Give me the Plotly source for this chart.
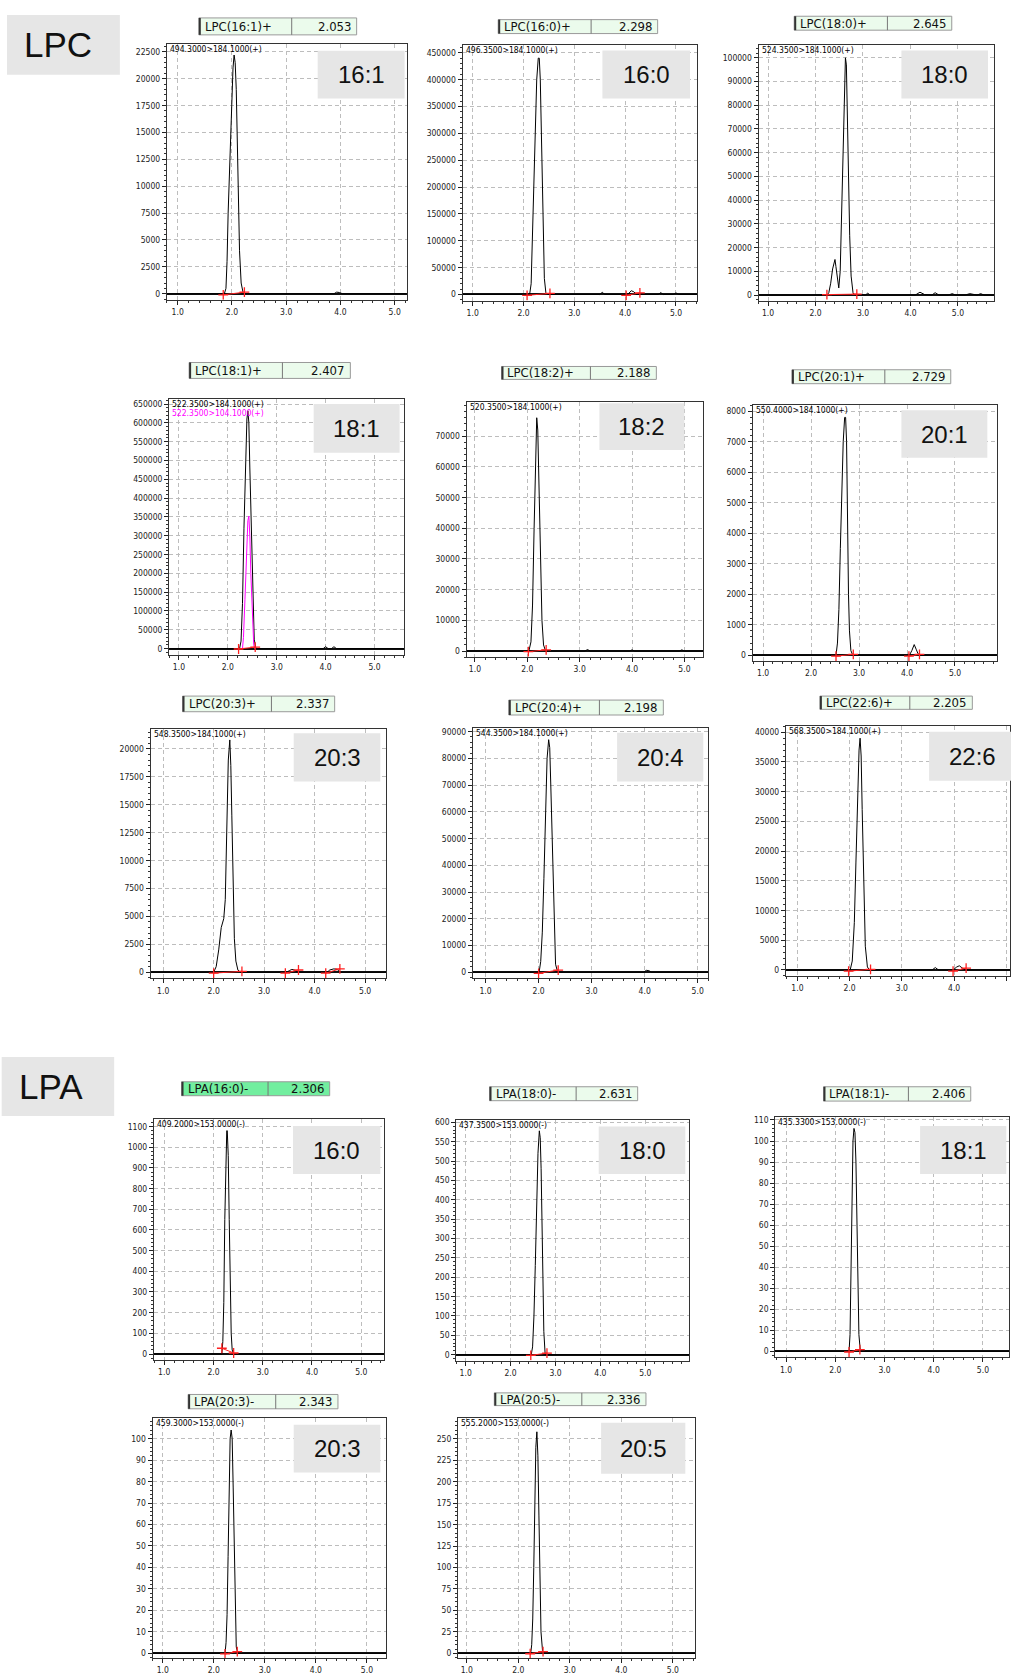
import plotly.graph_objects as go

# ======================= DATA =======================
# ---- LPC 16:1 ----
lpc161_rt = [0.80, 1.86, 1.89, 1.91, 1.93, 1.96, 1.99, 2.02, 2.04, 2.06, 2.08, 2.10, 2.12, 2.14, 2.17, 2.21, 3.88, 3.93, 3.98, 4.04, 5.22]
lpc161_int = [0, 0, 500, 3000, 7500, 12500, 17500, 21000, 22200, 21500, 19000, 14000, 8500, 4000, 1000, 0, 0, 150, 120, 0, 0]
lpc161_base_rt = [1.84, 2.23]
lpc161_base_int = [-100, 150]
lpc161_ticks = [0, 2500, 5000, 7500, 10000, 12500, 15000, 17500, 20000, 22500]

# ---- LPC 16:0 ----
lpc160_rt = [0.80, 2.12, 2.15, 2.17, 2.20, 2.23, 2.26, 2.29, 2.31, 2.33, 2.35, 2.37, 2.39, 2.41, 2.44, 2.47, 3.50, 3.55, 3.60, 4.05, 4.12, 4.17, 4.22, 4.65, 4.70, 4.75, 4.95, 5.00, 5.05, 5.42]
lpc160_int = [0, 0, 20000, 100000, 200000, 300000, 400000, 440000, 440000, 400000, 300000, 200000, 100000, 30000, 3000, 0, 0, 4000, 0, 0, 7000, 5000, 0, 0, 3500, 0, 0, 3000, 0, 0]
lpc160_base_rt = [2.07, 2.52, None, 4.02, 4.29]
lpc160_base_int = [-1500, 2000, None, -1500, 3000]
lpc160_ticks = [0, 50000, 100000, 150000, 200000, 250000, 300000, 350000, 400000, 450000]

# ---- LPC 18:0 ----
lpc180_rt = [0.80, 2.24, 2.28, 2.32, 2.36, 2.39, 2.41, 2.43, 2.46, 2.49, 2.52, 2.55, 2.58, 2.61, 2.63, 2.65, 2.67, 2.69, 2.72, 2.75, 2.79, 2.83, 3.05, 3.10, 3.15, 4.10, 4.20, 4.30, 4.45, 4.52, 4.60, 4.80, 4.88, 4.95, 5.15, 5.25, 5.40, 5.48, 5.55, 5.76]
lpc180_int = [0, 0, 1000, 5000, 11000, 14500, 15000, 12000, 6000, 3000, 10000, 35000, 60000, 90000, 100000, 97000, 75000, 50000, 25000, 8000, 1000, 0, 0, 800, 0, 0, 1200, 200, 0, 1000, 0, 0, 600, 0, 0, 600, 0, 600, 0, 0]
lpc180_base_rt = [2.24, 2.87]
lpc180_base_int = [200, 400]
lpc180_ticks = [0, 10000, 20000, 30000, 40000, 50000, 60000, 70000, 80000, 90000, 100000]

# ---- LPC 18:1 (two transitions) ----
lpc181_rt = [0.80, 2.24, 2.27, 2.30, 2.33, 2.36, 2.39, 2.41, 2.43, 2.45, 2.48, 2.51, 2.54, 2.57, 2.60, 3.95, 4.00, 4.05, 4.12, 4.17, 4.22, 5.60]
lpc181_int = [0, 0, 20000, 120000, 320000, 500000, 610000, 632000, 600000, 480000, 300000, 120000, 25000, 2000, 0, 0, 5000, 0, 0, 5000, 0, 0]
lpc181b_rt = [2.30, 2.32, 2.35, 2.38, 2.41, 2.43, 2.45, 2.47, 2.50, 2.53, 2.55]
lpc181b_int = [0, 30000, 130000, 260000, 340000, 352000, 300000, 200000, 80000, 10000, 0]
lpc181_base_rt = [2.22, 2.56]
lpc181_base_int = [-1000, 4000]
lpc181_ticks = [0, 50000, 100000, 150000, 200000, 250000, 300000, 350000, 400000, 450000, 500000, 550000, 600000, 650000]

# ---- LPC 18:2 ----
lpc182_rt = [0.84, 2.03, 2.07, 2.10, 2.13, 2.16, 2.18, 2.20, 2.22, 2.25, 2.28, 2.31, 2.35, 3.10, 3.15, 3.20, 3.95, 4.00, 4.05, 4.90, 4.95, 5.00, 5.36]
lpc182_int = [0, 0, 3000, 15000, 40000, 65000, 76000, 72000, 55000, 30000, 10000, 2000, 0, 0, 500, 0, 0, 400, 0, 0, 400, 0, 0]
lpc182_base_rt = [2.02, 2.36]
lpc182_base_int = [-200, 400]
lpc182_ticks = [0, 10000, 20000, 30000, 40000, 50000, 60000, 70000]

# ---- LPC 20:1 ----
lpc201_rt = [0.78, 2.52, 2.55, 2.58, 2.61, 2.64, 2.67, 2.70, 2.72, 2.74, 2.76, 2.78, 2.80, 2.83, 2.87, 4.05, 4.10, 4.15, 4.19, 4.23, 4.27, 5.87]
lpc201_int = [0, 0, 400, 1500, 3500, 5800, 7000, 7800, 7800, 7000, 4000, 2000, 800, 150, 0, 0, 150, 350, 200, 50, 0, 0]
lpc201_base_rt = [2.52, 2.88, None, 4.04, 4.26]
lpc201_base_int = [-30, 30, None, -30, 30]
lpc201_ticks = [0, 1000, 2000, 3000, 4000, 5000, 6000, 7000, 8000]

# ---- LPC 20:3 ----
lpc203_rt = [0.75, 2.00, 2.05, 2.10, 2.15, 2.20, 2.23, 2.26, 2.29, 2.32, 2.34, 2.36, 2.38, 2.41, 2.44, 2.48, 2.53, 3.45, 3.50, 3.55, 3.60, 3.65, 4.25, 4.30, 4.38, 4.45, 4.50, 5.42]
lpc203_int = [0, 0, 500, 2000, 4000, 4800, 6500, 13000, 19000, 20800, 18500, 14000, 8000, 3000, 1000, 200, 0, 0, 150, 250, 200, 0, 0, 200, 300, 250, 0, 0]
lpc203_base_rt = [2.00, 2.56, None, 3.42, 3.68, None, 4.22, 4.50]
lpc203_base_int = [-80, 80, None, -80, 200, None, -80, 300]
lpc203_ticks = [0, 2500, 5000, 7500, 10000, 12500, 15000, 17500, 20000]

# ---- LPC 20:4 ----
lpc204_rt = [0.76, 2.01, 2.04, 2.07, 2.10, 2.13, 2.16, 2.19, 2.21, 2.23, 2.26, 2.29, 2.32, 2.36, 3.98, 4.03, 4.08, 4.13, 5.20]
lpc204_int = [0, 0, 4000, 15000, 35000, 60000, 80000, 87000, 84000, 70000, 45000, 18000, 3000, 0, 0, 700, 600, 0, 0]
lpc204_base_rt = [2.00, 2.37]
lpc204_base_int = [-400, 800]
lpc204_ticks = [0, 10000, 20000, 30000, 40000, 50000, 60000, 70000, 80000, 90000]

# ---- LPC 22:6 ----
lpc226_rt = [0.78, 2.01, 2.05, 2.09, 2.12, 2.15, 2.18, 2.20, 2.22, 2.24, 2.27, 2.30, 2.34, 2.38, 3.58, 3.64, 3.70, 3.98, 4.05, 4.10, 4.16, 4.22, 5.07]
lpc226_int = [0, 0, 1500, 8000, 18000, 29000, 37000, 39000, 36000, 27000, 14000, 4000, 500, 0, 0, 400, 0, 0, 500, 700, 300, 0, 0]
lpc226_base_rt = [1.98, 2.40, None, 3.98, 4.23]
lpc226_base_int = [-200, 100, None, -200, 300]
lpc226_ticks = [0, 5000, 10000, 15000, 20000, 25000, 30000, 35000, 40000]

# ---- LPA 16:0 ----
lpa160_rt = [0.79, 2.17, 2.19, 2.21, 2.23, 2.25, 2.27, 2.28, 2.30, 2.32, 2.34, 2.36, 2.38, 2.41, 5.46]
lpa160_int = [0, 0, 60, 250, 650, 970, 1080, 1080, 960, 650, 300, 100, 20, 0, 0]
lpa160_base_rt = [2.17, 2.41]
lpa160_base_int = [28, 5]
lpa160_ticks = [0, 100, 200, 300, 400, 500, 600, 700, 800, 900, 1000, 1100]

# ---- LPA 18:0 ----
lpa180_rt = [0.79, 2.46, 2.49, 2.52, 2.55, 2.58, 2.61, 2.64, 2.66, 2.68, 2.70, 2.72, 2.74, 2.77, 5.98]
lpa180_int = [0, 0, 20, 100, 230, 380, 520, 578, 560, 480, 350, 200, 60, 0, 0]
lpa180_base_rt = [2.45, 2.81]
lpa180_base_int = [-2, 4]
lpa180_ticks = [0, 50, 100, 150, 200, 250, 300, 350, 400, 450, 500, 550, 600]

# ---- LPA 18:1 ----
lpa181_rt = [0.78, 2.28, 2.30, 2.32, 2.34, 2.36, 2.38, 2.40, 2.42, 2.44, 2.46, 2.48, 2.51, 5.53]
lpa181_int = [0, 0, 8, 35, 75, 100, 106, 104, 90, 60, 30, 8, 0, 0]
lpa181_base_rt = [2.28, 2.50]
lpa181_base_int = [-0.3, 0.8]
lpa181_ticks = [0, 10, 20, 30, 40, 50, 60, 70, 80, 90, 100, 110]

# ---- LPA 20:3 ----
lpa203_rt = [0.80, 2.22, 2.24, 2.26, 2.28, 2.30, 2.32, 2.34, 2.36, 2.38, 2.40, 2.42, 2.44, 2.47, 5.38]
lpa203_int = [0, 0, 5, 18, 45, 77, 100, 104, 100, 77, 45, 15, 3, 0, 0]
lpa203_base_rt = [2.22, 2.46]
lpa203_base_int = [-0.3, 0.8]
lpa203_ticks = [0, 10, 20, 30, 40, 50, 60, 70, 80, 90, 100]

# ---- LPA 20:5 ----
lpa205_rt = [0.83, 2.24, 2.26, 2.28, 2.30, 2.32, 2.34, 2.36, 2.38, 2.40, 2.42, 2.44, 2.47, 2.50, 5.43]
lpa205_int = [0, 0, 10, 40, 100, 180, 240, 258, 230, 160, 80, 25, 3, 0, 0]
lpa205_base_rt = [2.23, 2.48]
lpa205_base_int = [-0.5, 2]
lpa205_ticks = [0, 25, 50, 75, 100, 125, 150, 175, 200, 225, 250]

# ======================= LAYOUT (pixel geometry) =======================
FIG_W, FIG_H = 1011, 1675
NARROW = "Liberation Sans Narrow, DejaVu Sans Condensed, Arial Narrow, Liberation Sans, sans-serif"
SANS = "Liberation Sans, Arial, Helvetica, sans-serif"

def px(x):
    return x / FIG_W

def py(y):
    return 1 - y / FIG_H

panels = [
    dict(title="LPC(16:1)+", rtv="2.053", label="16:1", hdr=["494.3000>184.1000(+)"],
         rt=lpc161_rt, it=lpc161_int, brt=lpc161_base_rt, bit=lpc161_base_int, ticks=lpc161_ticks,
         frame=(167, 407, 41, 298), xr=(0.80, 5.22), yr=(-556, 23241),
         tbox=(199, 357, 15, 32, 292), lbox=(318, 405, 48, 96)),
    dict(title="LPC(16:0)+", rtv="2.298", label="16:0", hdr=["496.3500>184.1000(+)"],
         rt=lpc160_rt, it=lpc160_int, brt=lpc160_base_rt, bit=lpc160_base_int, ticks=lpc160_ticks,
         frame=(463, 698, 42, 299), xr=(0.80, 5.42), yr=(-11680, 464800),
         tbox=(498.7, 658.3, 16.7, 30.7, 591.7), lbox=(603, 690.7, 47.7, 96)),
    dict(title="LPC(18:0)+", rtv="2.645", label="18:0", hdr=["524.3500>184.1000(+)"],
         rt=lpc180_rt, it=lpc180_int, brt=lpc180_base_rt, bit=lpc180_base_int, ticks=lpc180_ticks,
         frame=(759.3, 995, 42.3, 299.5), xr=(0.80, 5.76), yr=(-2600, 105330),
         tbox=(795, 952.7, 13.3, 27.3, 888.3), lbox=(902.3, 989, 47.7, 96)),
    dict(title="LPC(18:1)+", rtv="2.407", label="18:1", hdr=["522.3500>184.1000(+)", "522.3500>104.1000(+)"],
         rt=lpc181_rt, it=lpc181_int, brt=lpc181_base_rt, bit=lpc181_base_int, ticks=lpc181_ticks,
         extra=(lpc181b_rt, lpc181b_int),
         frame=(169.3, 404.3, 397.3, 655), xr=(0.80, 5.60), yr=(-17700, 664300),
         tbox=(189.3, 350.7, 361, 377, 282.7), lbox=(314, 400, 402.7, 451.7)),
    dict(title="LPC(18:2)+", rtv="2.188", label="18:2", hdr=["520.3500>184.1000(+)"],
         rt=lpc182_rt, it=lpc182_int, brt=lpc182_base_rt, bit=lpc182_base_int, ticks=lpc182_ticks,
         frame=(467, 704, 401, 657), xr=(0.84, 5.36), yr=(-2011, 81030),
         tbox=(502, 657, 365, 378, 591), lbox=(600, 685, 402, 449)),
    dict(title="LPC(20:1)+", rtv="2.729", label="20:1", hdr=["550.4000>184.1000(+)"],
         rt=lpc201_rt, it=lpc201_int, brt=lpc201_base_rt, bit=lpc201_base_int, ticks=lpc201_ticks,
         frame=(753.3, 997.7, 403.3, 661), xr=(0.78, 5.87), yr=(-196, 8219),
         tbox=(792.7, 951.7, 368.3, 382.3, 885.7), lbox=(902.3, 988.3, 409, 456.7)),
    dict(title="LPC(20:3)+", rtv="2.337", label="20:3", hdr=["548.3500>184.1000(+)"],
         rt=lpc203_rt, it=lpc203_int, brt=lpc203_base_rt, bit=lpc203_base_int, ticks=lpc203_ticks,
         frame=(150.7, 386.7, 729, 979.5), xr=(0.75, 5.42), yr=(-553, 21783),
         tbox=(182.7, 335, 696, 711.7, 271.7), lbox=(294, 380.7, 733.3, 781.7)),
    dict(title="LPC(20:4)+", rtv="2.198", label="20:4", hdr=["544.3500>184.1000(+)"],
         rt=lpc204_rt, it=lpc204_int, brt=lpc204_base_rt, bit=lpc204_base_int, ticks=lpc204_ticks,
         frame=(473.3, 709, 728.3, 979.5), xr=(0.76, 5.20), yr=(-2310, 91267),
         tbox=(509.3, 664, 700, 715, 600), lbox=(617.7, 704, 732.7, 781.7)),
    dict(title="LPC(22:6)+", rtv="2.205", label="22:6", hdr=["568.3500>184.1000(+)"],
         rt=lpc226_rt, it=lpc226_int, brt=lpc226_base_rt, bit=lpc226_base_int, ticks=lpc226_ticks,
         frame=(786.7, 1011, 726, 977), xr=(0.78, 5.07), yr=(-1005, 41055),
         tbox=(820.7, 973.3, 696, 709.3, 910.7), lbox=(930, 1016, 731.7, 781)),
    dict(title="LPA(16:0)-", rtv="2.306", label="16:0", hdr=["409.2000>153.0000(-)"], sel=True,
         rt=lpa160_rt, it=lpa160_int, brt=lpa160_base_rt, bit=lpa160_base_int, ticks=lpa160_ticks,
         frame=(154, 384.3, 1120.7, 1362.7), xr=(0.79, 5.46), yr=(-28.9, 1136.6),
         tbox=(181.7, 330, 1083.3, 1097.3, 268.3), lbox=(293.3, 380.7, 1127.7, 1176)),
    dict(title="LPA(18:0)-", rtv="2.631", label="18:0", hdr=["437.3500>153.0000(-)"],
         rt=lpa180_rt, it=lpa180_int, brt=lpa180_base_rt, bit=lpa180_base_int, ticks=lpa180_ticks,
         frame=(456.7, 690, 1121.7, 1363.3), xr=(0.79, 5.98), yr=(-15.4, 605.9),
         tbox=(490, 638.3, 1088.3, 1102.3, 576.7), lbox=(599.3, 686, 1128.3, 1176)),
    dict(title="LPA(18:1)-", rtv="2.406", label="18:1", hdr=["435.3300>153.0000(-)"],
         rt=lpa181_rt, it=lpa181_int, brt=lpa181_base_rt, bit=lpa181_base_int, ticks=lpa181_ticks,
         frame=(776, 1010, 1118.3, 1360), xr=(0.78, 5.53), yr=(-2.84, 111.6),
         tbox=(824.3, 971.7, 1088.3, 1102.7, 909.3), lbox=(921, 1007.3, 1127.7, 1176)),
    dict(title="LPA(20:3)-", rtv="2.343", label="20:3", hdr=["459.3000>153.0000(-)"],
         rt=lpa203_rt, it=lpa203_int, brt=lpa203_base_rt, bit=lpa203_base_int, ticks=lpa203_ticks,
         frame=(152.7, 386.7, 1420.7, 1662), xr=(0.80, 5.38), yr=(-2.2, 109.7),
         tbox=(188.3, 338.3, 1397.3, 1411.7, 276), lbox=(294, 380.7, 1427.7, 1475.7)),
    dict(title="LPA(20:5)-", rtv="2.336", label="20:5", hdr=["555.2000>153.0000(-)"],
         rt=lpa205_rt, it=lpa205_int, brt=lpa205_base_rt, bit=lpa205_base_int, ticks=lpa205_ticks,
         frame=(458.5, 695.7, 1421, 1662), xr=(0.83, 5.43), yr=(-5.5, 274),
         tbox=(494.8, 646.6, 1395.7, 1408.5, 582.4), lbox=(601.7, 686, 1425.7, 1477)),
]

sections = [
    dict(text="LPC", box=(7, 120, 12, 72), cx=58, cy=42),
    dict(text="LPA", box=(1.7, 114.3, 1058.3, 1117.7), cx=51, cy=1088),
]

fig = go.Figure()
shapes = []
annotations = []
layout_axes = {}
TICKFONT = dict(family=NARROW, size=8.5, color="#222")
GRIDDASH = "4px,3px"

for i, p in enumerate(panels, start=1):
    sfx = "" if i == 1 else str(i)
    xref, yref = "x" + sfx, "y" + sfx
    L, R, T, B = p["frame"]
    ticks = p["ticks"]
    step = ticks[1] - ticks[0]

    fig.add_trace(go.Scatter(x=p["rt"], y=p["it"], mode="lines", line=dict(color="black", width=1),
                             xaxis=xref, yaxis=yref, showlegend=False, hoverinfo="skip"))
    if "extra" in p:
        ert, eit = p["extra"]
        fig.add_trace(go.Scatter(x=ert, y=eit, mode="lines", line=dict(color="#ff00ff", width=1),
                                 xaxis=xref, yaxis=yref, showlegend=False, hoverinfo="skip"))
    fig.add_trace(go.Scatter(x=p["brt"], y=p["bit"], mode="lines+markers",
                             line=dict(color="#ff2020", width=1),
                             marker=dict(symbol="cross-thin", size=7, color="#ff2020",
                                         line=dict(color="#ff2020", width=1.3)),
                             xaxis=xref, yaxis=yref, showlegend=False, hoverinfo="skip",
                             connectgaps=False))

    layout_axes["xaxis" + sfx] = dict(
        domain=[px(L), min(1.0, px(R))], range=list(p["xr"]), anchor=yref,
        tickmode="linear", tick0=1, dtick=1, tickformat=".1f",
        ticks="outside", ticklen=4, tickcolor="#222", tickfont=TICKFONT,
        showline=True, mirror=True, linecolor="#333", linewidth=1,
        showgrid=True, gridcolor="#bdbdbd", griddash=GRIDDASH, gridwidth=1,
        zeroline=False, fixedrange=True,
        minor=dict(tickmode="linear", tick0=1, dtick=0.2, ticks="outside", ticklen=2,
                   tickcolor="#333", showgrid=False),
    )
    layout_axes["yaxis" + sfx] = dict(
        domain=[py(B), py(T)], range=list(p["yr"]), anchor=xref,
        tickmode="array", tickvals=ticks, ticktext=[str(v) for v in ticks],
        ticks="outside", ticklen=4, tickcolor="#222", tickfont=TICKFONT,
        showline=True, mirror=True, linecolor="#333", linewidth=1,
        showgrid=True, gridcolor="#bdbdbd", griddash=GRIDDASH, gridwidth=1,
        zeroline=True, zerolinecolor="#111", zerolinewidth=1.6, fixedrange=True,
        minor=dict(tickmode="linear", tick0=0, dtick=step / 5, ticks="outside", ticklen=2,
                   tickcolor="#333", showgrid=False),
    )

    # transition header text(s)
    hdr_colors = ["black", "#ff00ff"]
    for k, h in enumerate(p["hdr"]):
        annotations.append(dict(text=h, xref=xref + " domain", yref=yref + " domain",
                                x=0.0, y=1.0, xanchor="left", yanchor="top", showarrow=False,
                                xshift=1, yshift=2 - 9 * k,
                                font=dict(family=NARROW, size=8.5, color=hdr_colors[k])))

    # compound title box
    tl, tr, tt, tb, td = p["tbox"]
    fill = "#72ee9f" if p.get("sel") else "#ebfbec"
    shapes.append(dict(type="rect", xref="paper", yref="paper", x0=px(tl), x1=px(tr), y0=py(tb), y1=py(tt),
                       fillcolor=fill, line=dict(color="#999999", width=1), layer="above"))
    shapes.append(dict(type="line", xref="paper", yref="paper", x0=px(td), x1=px(td), y0=py(tb), y1=py(tt),
                       line=dict(color="#777777", width=1), layer="above"))
    shapes.append(dict(type="line", xref="paper", yref="paper", x0=px(tl + 1), x1=px(tl + 1), y0=py(tb), y1=py(tt),
                       line=dict(color="#333333", width=2), layer="above"))
    annotations.append(dict(text=p["title"], xref="paper", yref="paper", x=px(tl + 4), y=py((tt + tb) / 2),
                            xanchor="left", yanchor="middle", showarrow=False,
                            font=dict(family=NARROW, size=13, color="#111")))
    annotations.append(dict(text=p["rtv"], xref="paper", yref="paper", x=px(tr - 4), y=py((tt + tb) / 2),
                            xanchor="right", yanchor="middle", showarrow=False,
                            font=dict(family=NARROW, size=13, color="#111")))

    # grey chain label box
    bl, br, bt, bb = p["lbox"]
    shapes.append(dict(type="rect", xref="paper", yref="paper", x0=px(bl), x1=px(br), y0=py(bb), y1=py(bt),
                       fillcolor="#e6e6e6", line=dict(width=0), layer="above"))
    annotations.append(dict(text=p["label"], xref="paper", yref="paper", x=px((bl + br) / 2),
                            y=py((bt + bb) / 2), xanchor="center", yanchor="middle", showarrow=False,
                            font=dict(family=SANS, size=24, color="#111")))

for s in sections:
    l, r, t, b = s["box"]
    shapes.append(dict(type="rect", xref="paper", yref="paper", x0=px(l), x1=px(r), y0=py(b), y1=py(t),
                       fillcolor="#e6e6e6", line=dict(width=0), layer="above"))
    annotations.append(dict(text=s["text"], xref="paper", yref="paper", x=px(s["cx"]), y=py(s["cy"]),
                            xanchor="center", yanchor="middle", showarrow=False,
                            font=dict(family=SANS, size=35, color="#111")))

fig.update_layout(
    width=FIG_W, height=FIG_H, autosize=False,
    margin=dict(l=0, r=0, t=0, b=0),
    paper_bgcolor="white", plot_bgcolor="white",
    showlegend=False, shapes=shapes, annotations=annotations,
    **layout_axes,
)

fig.write_html("out.html", config={"displayModeBar": False},
               post_script="document.body.style.margin='0';document.body.style.overflow='hidden';")
